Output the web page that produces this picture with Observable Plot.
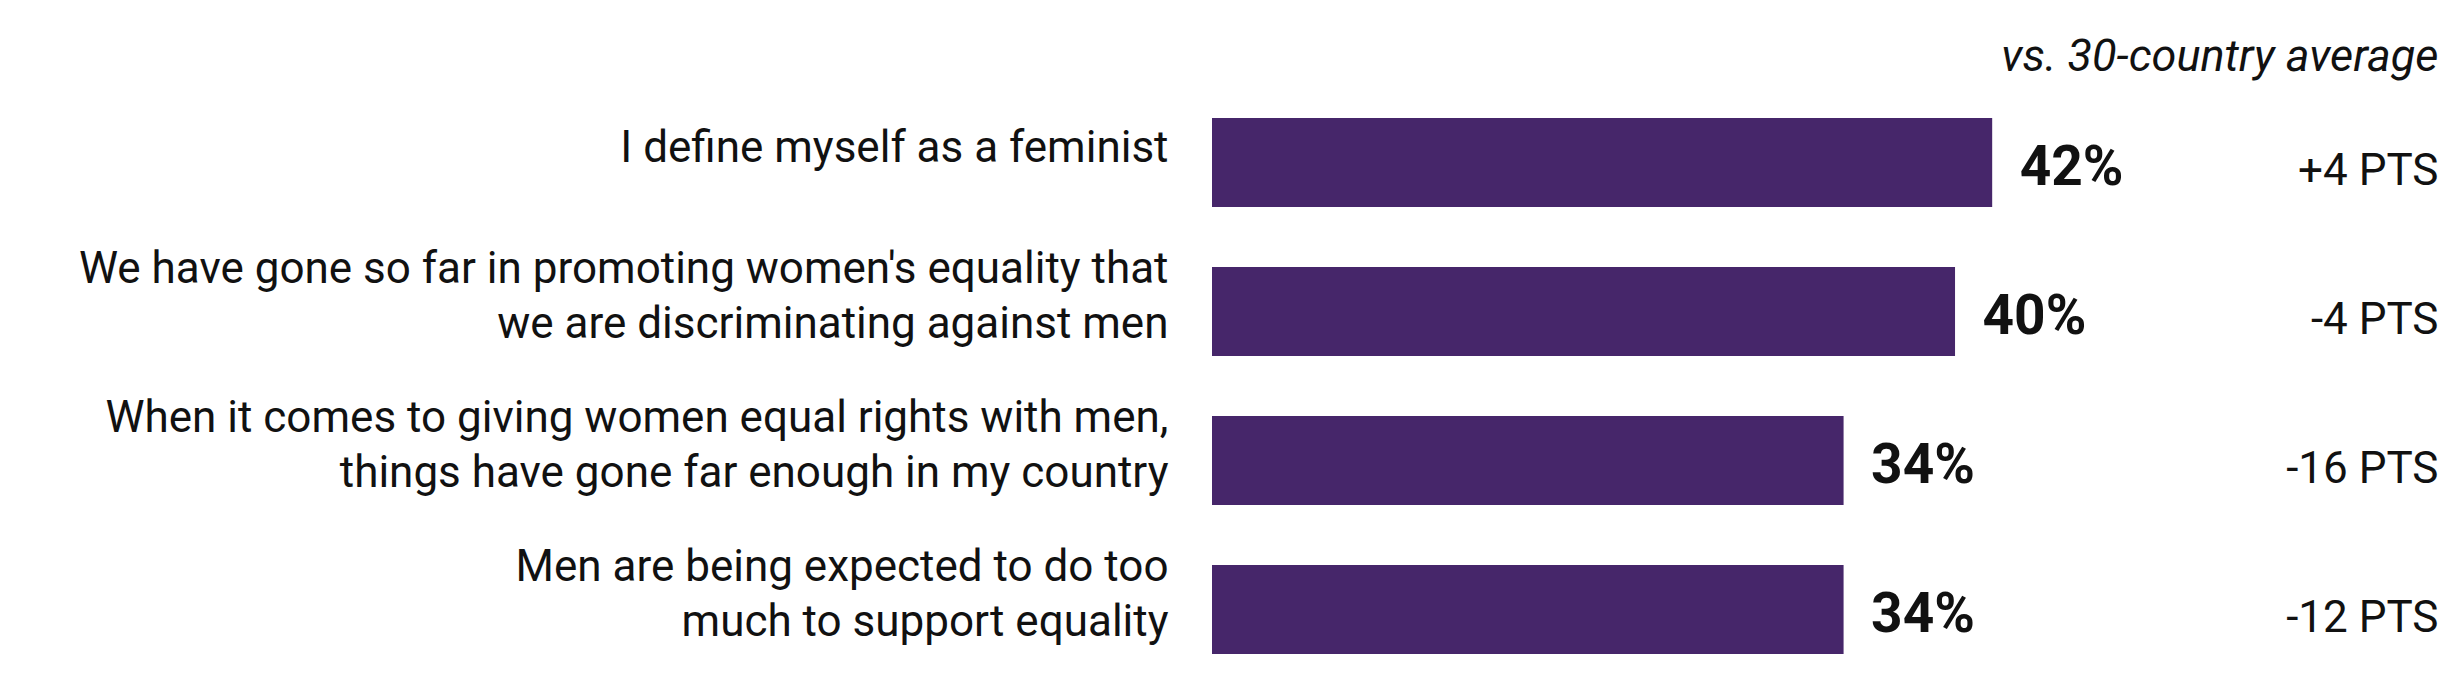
<!DOCTYPE html>
<html>
<head>
<meta charset="utf-8">
<script src="https://cdn.jsdelivr.net/npm/d3@7"></script>
<script src="https://cdn.jsdelivr.net/npm/@observablehq/plot@0.6"></script>
<style>
  html, body { margin: 0; padding: 0; background: #fff; }
  #chart svg { display: block; }
</style>
</head>
<body>
<div id="chart"></div>
<script>
const statements = [
  "I define myself as a feminist",
  "We have gone so far in promoting women's equality that\nwe are discriminating against men",
  "When it comes to giving women equal rights with men,\nthings have gone far enough in my country",
  "Men are being expected to do too\nmuch to support equality"
];
const shares = [42, 40, 34, 34];
const vsAverage = ["+4 PTS", "-4 PTS", "-16 PTS", "-12 PTS"];
const headerNote = "vs. 30-country average";

const rows = statements.map((s, i) => ({statement: s, share: shares[i], diff: vsAverage[i]}));

const FONT = "Roboto, 'Noto Sans', sans-serif";
const W = 2459, H = 685;

const chart = Plot.plot({
  width: W,
  height: H,
  marginLeft: 1212,
  marginRight: 21,
  marginTop: 88,
  marginBottom: 1,
  style: {fontFamily: FONT, background: "#fff", color: "#111"},
  x: {domain: [0, 66], axis: null},
  y: {domain: statements, axis: null, paddingInner: 0.4, paddingOuter: 0.2},
  marks: [
    Plot.barX(rows, {x: "share", y: "statement", fill: "#46266a"}),
    Plot.text(rows, {
      x: 0, y: "statement", text: "statement",
      textAnchor: "end", dx: -44, dy: -19,
      fontSize: 44, lineHeight: 1.25, fill: "#111"
    }),
    Plot.text(rows, {
      x: "share", y: "statement", text: d => d.share + "%",
      textAnchor: "start", dx: 27, dy: 4,
      fontSize: 55, fontWeight: "bold", fill: "#111"
    }),
    Plot.text(rows, {
      frameAnchor: "right", y: "statement", text: "diff",
      textAnchor: "end", dy: 8,
      fontSize: 44, fill: "#111"
    }),
    Plot.text([headerNote], {
      frameAnchor: "top-right", text: d => d,
      textAnchor: "end", lineAnchor: "bottom", dy: -18,
      fontSize: 45, fontStyle: "italic", fill: "#111"
    })
  ]
});
document.getElementById("chart").appendChild(chart);
</script>
</body>
</html>
